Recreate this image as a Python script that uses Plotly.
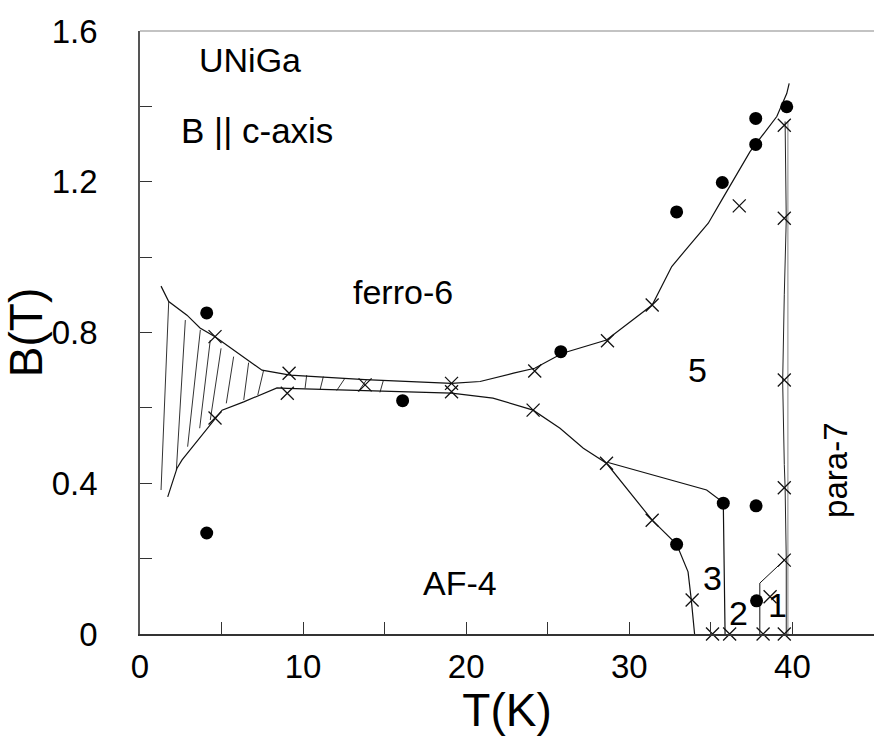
import plotly.graph_objects as go

# ---------------- data ----------------
dot_T = [4.09, 4.09, 16.1, 25.8, 32.9, 35.7, 37.75, 37.75, 39.65, 35.76, 37.77, 32.9, 37.8]
dot_B = [0.852, 0.268, 0.619, 0.749, 1.12, 1.198, 1.368, 1.299, 1.399, 0.347, 0.340, 0.238, 0.088]

x_T = [4.6, 4.6, 9.14, 9.03, 13.8, 19.1, 19.1, 24.2, 24.1, 28.66, 31.4, 36.74, 39.5, 39.5,
       39.5, 39.5, 39.5, 39.5, 38.2, 36.15, 35.1, 38.63, 33.85, 28.6, 31.4]
x_B = [0.789, 0.573, 0.692, 0.639, 0.661, 0.665, 0.643, 0.698, 0.594, 0.778, 0.873, 1.136, 1.35, 1.103,
       0.674, 0.388, 0.196, 0.0, 0.0, 0.0, 0.0, 0.099, 0.09, 0.453, 0.302]

upper_T = [1.29, 1.76, 2.88, 3.68, 4.6, 7.48, 9.2, 13.8, 19.1, 20.85, 22.9, 24.2, 25.9, 28.6,
           31.4, 32.6, 33.7, 34.84, 35.67, 37.4, 39.04, 39.65, 39.8]
upper_B = [0.923, 0.882, 0.846, 0.812, 0.789, 0.70, 0.687, 0.675, 0.665, 0.67, 0.692, 0.705, 0.745, 0.78,
           0.873, 0.975, 1.032, 1.09, 1.152, 1.28, 1.373, 1.434, 1.461]

lower_T = [1.7, 2.27, 2.58, 4.6, 5.03, 6.36, 8.4, 9.03, 19.1, 21.64, 24.1, 25.75, 27.18, 28.6,
           31.4, 32.9, 33.6, 33.8, 34.0]
lower_B = [0.364, 0.44, 0.462, 0.573, 0.594, 0.616, 0.653, 0.652, 0.639, 0.626, 0.594, 0.546, 0.493, 0.453,
           0.302, 0.238, 0.165, 0.09, 0.0]

af3_T = [28.7, 34.74, 35.76, 35.87]
af3_B = [0.455, 0.382, 0.349, 0.0]

af1_T = [38.0, 38.0, 39.5]
af1_B = [0.0, 0.135, 0.196]

para_T = [39.72, 39.72]
para_B = [0.0, 1.36]

parawave_T = [39.55, 39.62, 39.5, 39.4, 39.5, 39.55, 39.62, 39.62]
parawave_B = [1.36, 1.10, 0.90, 0.67, 0.45, 0.39, 0.20, 0.0]

# hatch segments: (T_top, B_top) -> (T_bottom, B_bottom)
hatch_T1 = [1.76, 2.78, 3.70, 4.31, 4.97, 5.74, 6.66, 7.58, 10.22, 11.24, 12.57, 13.9, 14.92]
hatch_B1 = [0.882, 0.833, 0.807, 0.78, 0.758, 0.736, 0.72, 0.70, 0.687, 0.683, 0.679, 0.675, 0.673]
hatch_T2 = [1.29, 2.23, 2.92, 3.66, 4.31, 5.29, 6.36, 7.22, 10.12, 11.04, 12.06, 13.38, 14.71]
hatch_B2 = [0.382, 0.435, 0.497, 0.546, 0.568, 0.612, 0.621, 0.634, 0.652, 0.648, 0.646, 0.643, 0.641]

labels = [
    ("ferro-6", 16.1, 0.907),
    ("5", 34.15, 0.70),
    ("AF-4", 19.6, 0.135),
    ("3", 35.1, 0.149),
    ("2", 36.7, 0.056),
    ("1", 39.1, 0.077),
]

x_ticks = [0, 10, 20, 30, 40]
y_ticks = [0, 0.4, 0.8, 1.2, 1.6]
y_ticktext = ["0", "0.4", "0.8", "1.2", "1.6"]

FONT = "Arial, Liberation Sans, sans-serif"

fig = go.Figure()

# hatch
hx, hy = [], []
for a, b, c, d in zip(hatch_T1, hatch_B1, hatch_T2, hatch_B2):
    hx += [a, c, None]
    hy += [b, d, None]
fig.add_trace(go.Scatter(x=hx, y=hy, mode="lines", line=dict(color="#333", width=1), hoverinfo="skip"))

for tx, ty, col, w in [(upper_T, upper_B, "#111", 1.2), (lower_T, lower_B, "#111", 1.2),
                       (af3_T, af3_B, "#111", 1.2), (af1_T, af1_B, "#111", 1.0),
                       (para_T, para_B, "#999", 1.2), (parawave_T, parawave_B, "#222", 1.0)]:
    fig.add_trace(go.Scatter(x=tx, y=ty, mode="lines", line=dict(color=col, width=w), hoverinfo="skip"))

fig.add_trace(go.Scatter(x=x_T, y=x_B, mode="markers", cliponaxis=False,
                         marker=dict(symbol="x-thin-open", size=13, color="#111",
                                     line=dict(color="#111", width=1.3))))
fig.add_trace(go.Scatter(x=dot_T, y=dot_B, mode="markers", cliponaxis=False,
                         marker=dict(symbol="circle", size=13, color="#000")))

for txt, tx, ty in labels:
    fig.add_annotation(x=tx, y=ty, text=txt, showarrow=False, xref="x", yref="y",
                       font=dict(family=FONT, size=34, color="#000"))

fig.add_annotation(x=42.6, y=0.435, text="para-7", showarrow=False, textangle=-90,
                   font=dict(family=FONT, size=33, color="#000"))
fig.add_annotation(x=3.5, y=1.523, text="UNiGa", showarrow=False, xanchor="left",
                   font=dict(family=FONT, size=34, color="#000"))
fig.add_annotation(x=2.4, y=1.337, text="B || c-axis", showarrow=False, xanchor="left",
                   font=dict(family=FONT, size=35, color="#000"))

# top frame line (thin, grey)
fig.add_shape(type="line", xref="paper", yref="paper", x0=0, x1=1, y0=1, y1=1,
              line=dict(color="#888", width=1.2))

fig.update_layout(
    width=874, height=736,
    margin=dict(l=140, r=0, t=31, b=102),
    paper_bgcolor="white", plot_bgcolor="white",
    showlegend=False,
    font=dict(family=FONT, color="#000"),
)
fig.update_xaxes(range=[0, 45], tickvals=x_ticks, ticktext=[str(v) for v in x_ticks],
                 ticks="inside", ticklen=12, tickcolor="#333",
                 minor=dict(tickvals=[5, 15, 25, 35], ticks="inside", ticklen=12, tickcolor="#333"),
                 showline=True, linecolor="#333", linewidth=2,
                 showgrid=False, zeroline=False,
                 tickfont=dict(size=33, family=FONT), ticklabelstandoff=2,
                 title=dict(text="T(K)", font=dict(size=46, family=FONT), standoff=4))
fig.update_yaxes(range=[0, 1.6], tickvals=y_ticks, ticktext=y_ticktext,
                 ticks="inside", ticklen=12, tickcolor="#333",
                 minor=dict(tickvals=[0.2, 0.6, 1.0, 1.4], ticks="inside", ticklen=12, tickcolor="#333"),
                 showline=True, linecolor="#555", linewidth=1.5,
                 showgrid=False, zeroline=False,
                 tickfont=dict(size=33, family=FONT), ticklabelstandoff=34,
                 title=dict(text="B(T)", font=dict(size=46, family=FONT), standoff=4))

fig.write_html("out.html", post_script="document.body.style.margin='0';",
               config={"displayModeBar": False})
